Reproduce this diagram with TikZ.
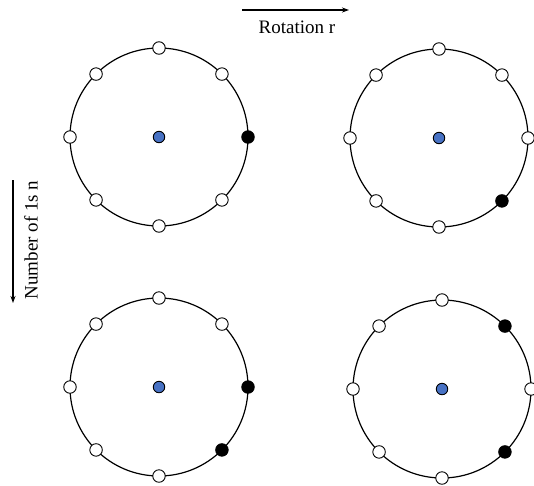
\documentclass[tikz,border=0pt]{standalone}
\usepackage{fontspec}
\setmainfont{Liberation Serif}
\usetikzlibrary{calc,arrows.meta}
\definecolor{hubblue}{RGB}{72,114,196}

% One ring of eight sites around a central hub.
% #1 name prefix, #2 centre, #3 styles of the sites at 0,45,...,315 degrees
\newcommand\siteRing[3]{%
  \coordinate (#1-c) at #2;
  \draw[ring] (#1-c) circle[radius=89pt];
  \node[hub] (#1-hub) at (#1-c) {};
  \foreach \st [count=\k from 0] in {#3}{%
    \node[\st] (#1-\k) at ($(#1-c)+(\k*45:89)$) {};
  }%
}

\begin{document}
\begin{tikzpicture}[x=1pt,y=-1pt,
  ring/.style={draw,line width=1.2pt},
  site/.style={circle,draw,line width=0.9pt,fill=white,minimum size=12.5pt,inner sep=0pt},
  on/.style={site,fill=black},
  hub/.style={circle,draw,line width=0.9pt,fill=hubblue,minimum size=11.5pt,inner sep=0pt},
  axistext/.style={font=\fontsize{19}{22}\selectfont,inner sep=0pt},
  axisarrow/.style={line width=1.1pt,-{Stealth[length=7pt,width=5pt]}}
]
\useasboundingbox (0,0) rectangle (534,485);

% axis arrows and their captions
\coordinate (rotStart) at (242,10);
\coordinate (rotEnd) at (349,10);
\draw[axisarrow] (rotStart) -- (rotEnd);
\node[axistext] (rotText) at (297,27) {Rotation r};

\coordinate (numStart) at (13,180);
\coordinate (numEnd) at (13,303);
\draw[axisarrow] (numStart) -- (numEnd);
\node[axistext,rotate=90] (numText) at (31,240) {Number of 1s n};

% the four rings
\siteRing{A}{(159,137)}{on,site,site,site,site,site,site,site}
\siteRing{B}{(439,138)}{site,on,site,site,site,site,site,site}
\siteRing{C}{(159,387)}{on,on,site,site,site,site,site,site}
\siteRing{D}{(442,389)}{site,on,site,site,site,site,site,on}
\end{tikzpicture}
\end{document}
